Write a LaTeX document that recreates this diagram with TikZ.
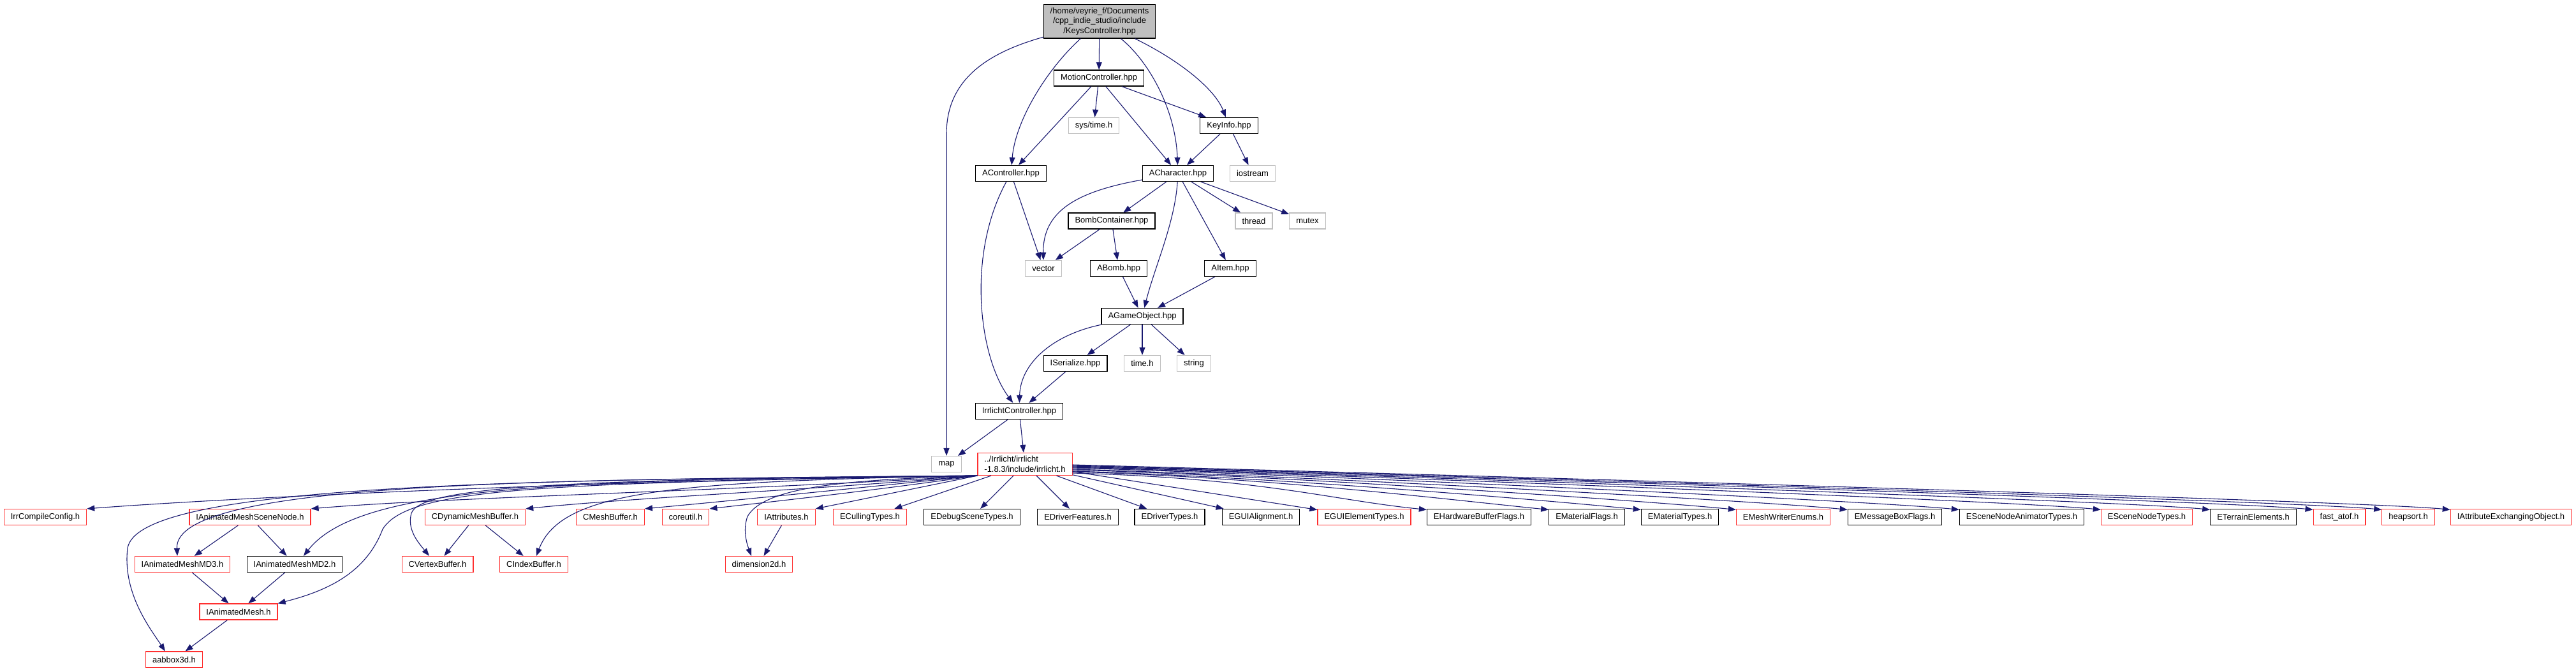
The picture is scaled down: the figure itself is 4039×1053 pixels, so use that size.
\documentclass[tikz,border=0pt]{standalone}
\usepackage{fontspec}
\setmainfont{Liberation Sans}
\usetikzlibrary{arrows.meta,calc}
\definecolor{dxedge}{HTML}{191970}
\definecolor{dxred}{HTML}{FF3030}
\definecolor{dxgrey}{HTML}{BFBFBF}

\begin{document}
\begin{tikzpicture}[
  x=1pt, y=-1pt,
  font=\fontsize{13}{15.5}\selectfont,
  file/.style={draw=black, line width=1.2pt, fill=white, minimum height=25pt, inner xsep=10.5pt, inner ysep=5pt},
  trunc/.style={file, draw=dxred},
  sys/.style={file, draw=dxgrey},
  root/.style={file, fill=dxgrey, align=center},
  arr/.style={-{Triangle[length=12pt,width=9pt]}, line width=1.1pt, draw=dxedge}
]
\useasboundingbox (0,0) rectangle (4039,1053);
% project headers
\node[root] (keys) at (1724,33.5) {/home/veyrie\_f/Documents\\/cpp\_indie\_studio/include\\/KeysController.hpp};
\node[file] (motion) at (1723,122.5) {MotionController.hpp};
\node[sys] (systime) at (1715,197) {sys/time.h};
\node[file] (keyinfo) at (1927,197) {KeyInfo.hpp};
\node[file] (actrl) at (1585,272) {AController.hpp};
\node[file] (achar) at (1847,272) {ACharacter.hpp};
\node[sys] (iostream) at (1964,272) {iostream};
\node[file] (bombc) at (1743,346.5) {BombContainer.hpp};
\node[sys] (thread) at (1966,346.5) {thread};
\node[sys] (mutex) at (2050,346.5) {mutex};
\node[sys] (vector) at (1636,421) {vector};
\node[file] (abomb) at (1754,421) {ABomb.hpp};
\node[file] (aitem) at (1929,421) {AItem.hpp};
\node[file] (agobj) at (1791,496) {AGameObject.hpp};
\node[file] (iser) at (1686,570) {ISerialize.hpp};
\node[sys] (timeh) at (1791,570) {time.h};
\node[sys] (string) at (1872,570) {string};
\node[file] (irrc) at (1598,645) {IrrlichtController.hpp};
\node[sys] (map) at (1484,728) {map};
\node[trunc, align=left] (irr) at (1607,728) {../Irrlicht/irrlicht\\-1.8.3/include/irrlicht.h};
% irrlicht headers
\node[trunc] (cfg) at (71,811) {IrrCompileConfig.h};
\node[trunc] (amsn) at (392,811) {IAnimatedMeshSceneNode.h};
\node[trunc] (dmb) at (745,811) {CDynamicMeshBuffer.h};
\node[trunc] (mbuf) at (957,811) {CMeshBuffer.h};
\node[trunc] (coreutil) at (1075,811) {coreutil.h};
\node[trunc] (iattr) at (1233,811) {IAttributes.h};
\node[trunc] (ecull) at (1364,811) {ECullingTypes.h};
\node[file] (edebug) at (1524,811) {EDebugSceneTypes.h};
\node[file] (edrvf) at (1690,811) {EDriverFeatures.h};
\node[file] (edrvt) at (1834,811) {EDriverTypes.h};
\node[file] (eguia) at (1977,811) {EGUIAlignment.h};
\node[trunc] (eguie) at (2139,811) {EGUIElementTypes.h};
\node[file] (ehwb) at (2319,811) {EHardwareBufferFlags.h};
\node[file] (ematf) at (2488,811) {EMaterialFlags.h};
\node[file] (ematt) at (2634,811) {EMaterialTypes.h};
\node[trunc] (emwe) at (2796,811) {EMeshWriterEnums.h};
\node[file] (embf) at (2971,811) {EMessageBoxFlags.h};
\node[file] (esna) at (3170,811) {ESceneNodeAnimatorTypes.h};
\node[trunc] (esnt) at (3366,811) {ESceneNodeTypes.h};
\node[file] (eterr) at (3533,811) {ETerrainElements.h};
\node[trunc] (fatof) at (3668,811) {fast\_atof.h};
\node[trunc] (heaps) at (3776,811) {heapsort.h};
\node[trunc] (iaeo) at (3937,811) {IAttributeExchangingObject.h};
\node[trunc] (md3) at (286,885) {IAnimatedMeshMD3.h};
\node[file] (md2) at (462,885) {IAnimatedMeshMD2.h};
\node[trunc] (vbuf) at (686,885) {CVertexBuffer.h};
\node[trunc] (ibuf) at (837,885) {CIndexBuffer.h};
\node[trunc] (dim2d) at (1190,885) {dimension2d.h};
\node[trunc] (amesh) at (374,959.5) {IAnimatedMesh.h};
\node[trunc] (aabb) at (273,1034.5) {aabbox3d.h};
% edges
\draw[arr] (keys) .. controls (1540,85) and (1484,130) .. (1484,210) -- (map);
\draw[arr] (keys) .. controls (1640,110) and (1592,190) .. (actrl);
\draw[arr] (keys) -- (motion);
\draw[arr] (keys) .. controls (1800,95) and (1843,170) .. (achar);
\draw[arr] (keys) .. controls (1850,95) and (1905,140) .. (keyinfo);
\draw[arr] (motion) -- (actrl);
\draw[arr] (motion) -- (systime);
\draw[arr] (motion) -- (achar);
\draw[arr] (motion) -- (keyinfo);
\draw[arr] (keyinfo) -- (achar);
\draw[arr] (keyinfo) -- (iostream);
\draw[arr] (actrl) -- (vector);
\draw[arr] (actrl) .. controls (1515,400) and (1535,560) .. (irrc);
\draw[arr] (achar) .. controls (1690,300) and (1635,330) .. (vector);
\draw[arr] (achar) -- (bombc);
\draw[arr] (achar) .. controls (1842,350) and (1810,420) .. (agobj);
\draw[arr] (achar) -- (aitem);
\draw[arr] (achar) -- (thread);
\draw[arr] (achar) -- (mutex);
\draw[arr] (bombc) -- (vector);
\draw[arr] (bombc) -- (abomb);
\draw[arr] (abomb) -- (agobj);
\draw[arr] (aitem) -- (agobj);
\draw[arr] (agobj) .. controls (1650,525) and (1600,570) .. (irrc);
\draw[arr] (agobj) -- (iser);
\draw[arr] (agobj) -- (timeh);
\draw[arr] (agobj) -- (string);
\draw[arr] (iser) -- (irrc);
\draw[arr] (irrc) -- (map);
\draw[arr] (irrc) -- (irr);
% irrlicht.h fan, left side
\draw[arr] (irr.south west) .. controls (1000,752) and (400,778) .. (cfg.north east);
\draw[arr] (irr.south west) .. controls (1150,770) and (700,780) .. (amsn.north east);
\draw[arr] (irr.south west) .. controls (800,752) and (215,760) .. (200,860) .. controls (192,930) and (235,985) .. ($(aabb.north)+(-14,0)$);
\draw[arr] (irr.south west) .. controls (850,752) and (272,755) .. ($(md3.north)+(-8,0)$);
\draw[arr] (irr.south west) .. controls (850,752) and (560,765) .. ($(md2.north)+(14,0)$);
\draw[arr] (irr.south west) .. controls (850,758) and (640,765) .. (600,830) .. controls (575,895) and (520,925) .. (amesh.north east);
\draw[arr] (irr.south west) .. controls (1250,770) and (1000,780) .. (dmb.north east);
\draw[arr] (irr.south west) .. controls (900,752) and (660,762) .. (645,805) .. controls (638,830) and (655,850) .. ($(vbuf.north)+(-13,0)$);
\draw[arr] (irr.south west) .. controls (1050,755) and (880,770) .. ($(ibuf.north)+(4,0)$);
\draw[arr] (irr.south west) .. controls (1300,770) and (1150,785) .. (mbuf.north east);
\draw[arr] (irr.south west) .. controls (1350,772) and (1200,788) .. (coreutil.north east);
\draw[arr] (irr.south west) -- (iattr.north east);
\draw[arr] (irr.south west) .. controls (1350,752) and (1200,760) .. (1172,810) .. controls (1165,830) and (1170,850) .. ($(dim2d.north)+(-12,0)$);
\draw[arr] (irr) -- (ecull);
\draw[arr] (irr) -- (edebug);
% irrlicht.h fan, right side
\foreach \t in {edrvf,edrvt,eguia,eguie}
  \draw[arr] (irr) -- (\t);
\foreach \t/\o in {ehwb/14,ematf/12,ematt/11,emwe/9,embf/8,esna/6,esnt/5,eterr/4,fatof/3,heaps/2,iaeo/1}
  \draw[arr] ($(irr.east)+(0,\o)$) .. controls +(300,8) and +(-150,-15) .. ($(\t.north west)+(0,1.5)$);
\draw[arr] (amsn) -- (md3);
\draw[arr] (amsn) -- (md2);
\draw[arr] (md3) -- (amesh);
\draw[arr] (md2) -- (amesh);
\draw[arr] (amesh) -- (aabb);
\draw[arr] (dmb) -- (vbuf);
\draw[arr] (dmb) -- (ibuf);
\draw[arr] (iattr) -- (dim2d);
\end{tikzpicture}
\end{document}
